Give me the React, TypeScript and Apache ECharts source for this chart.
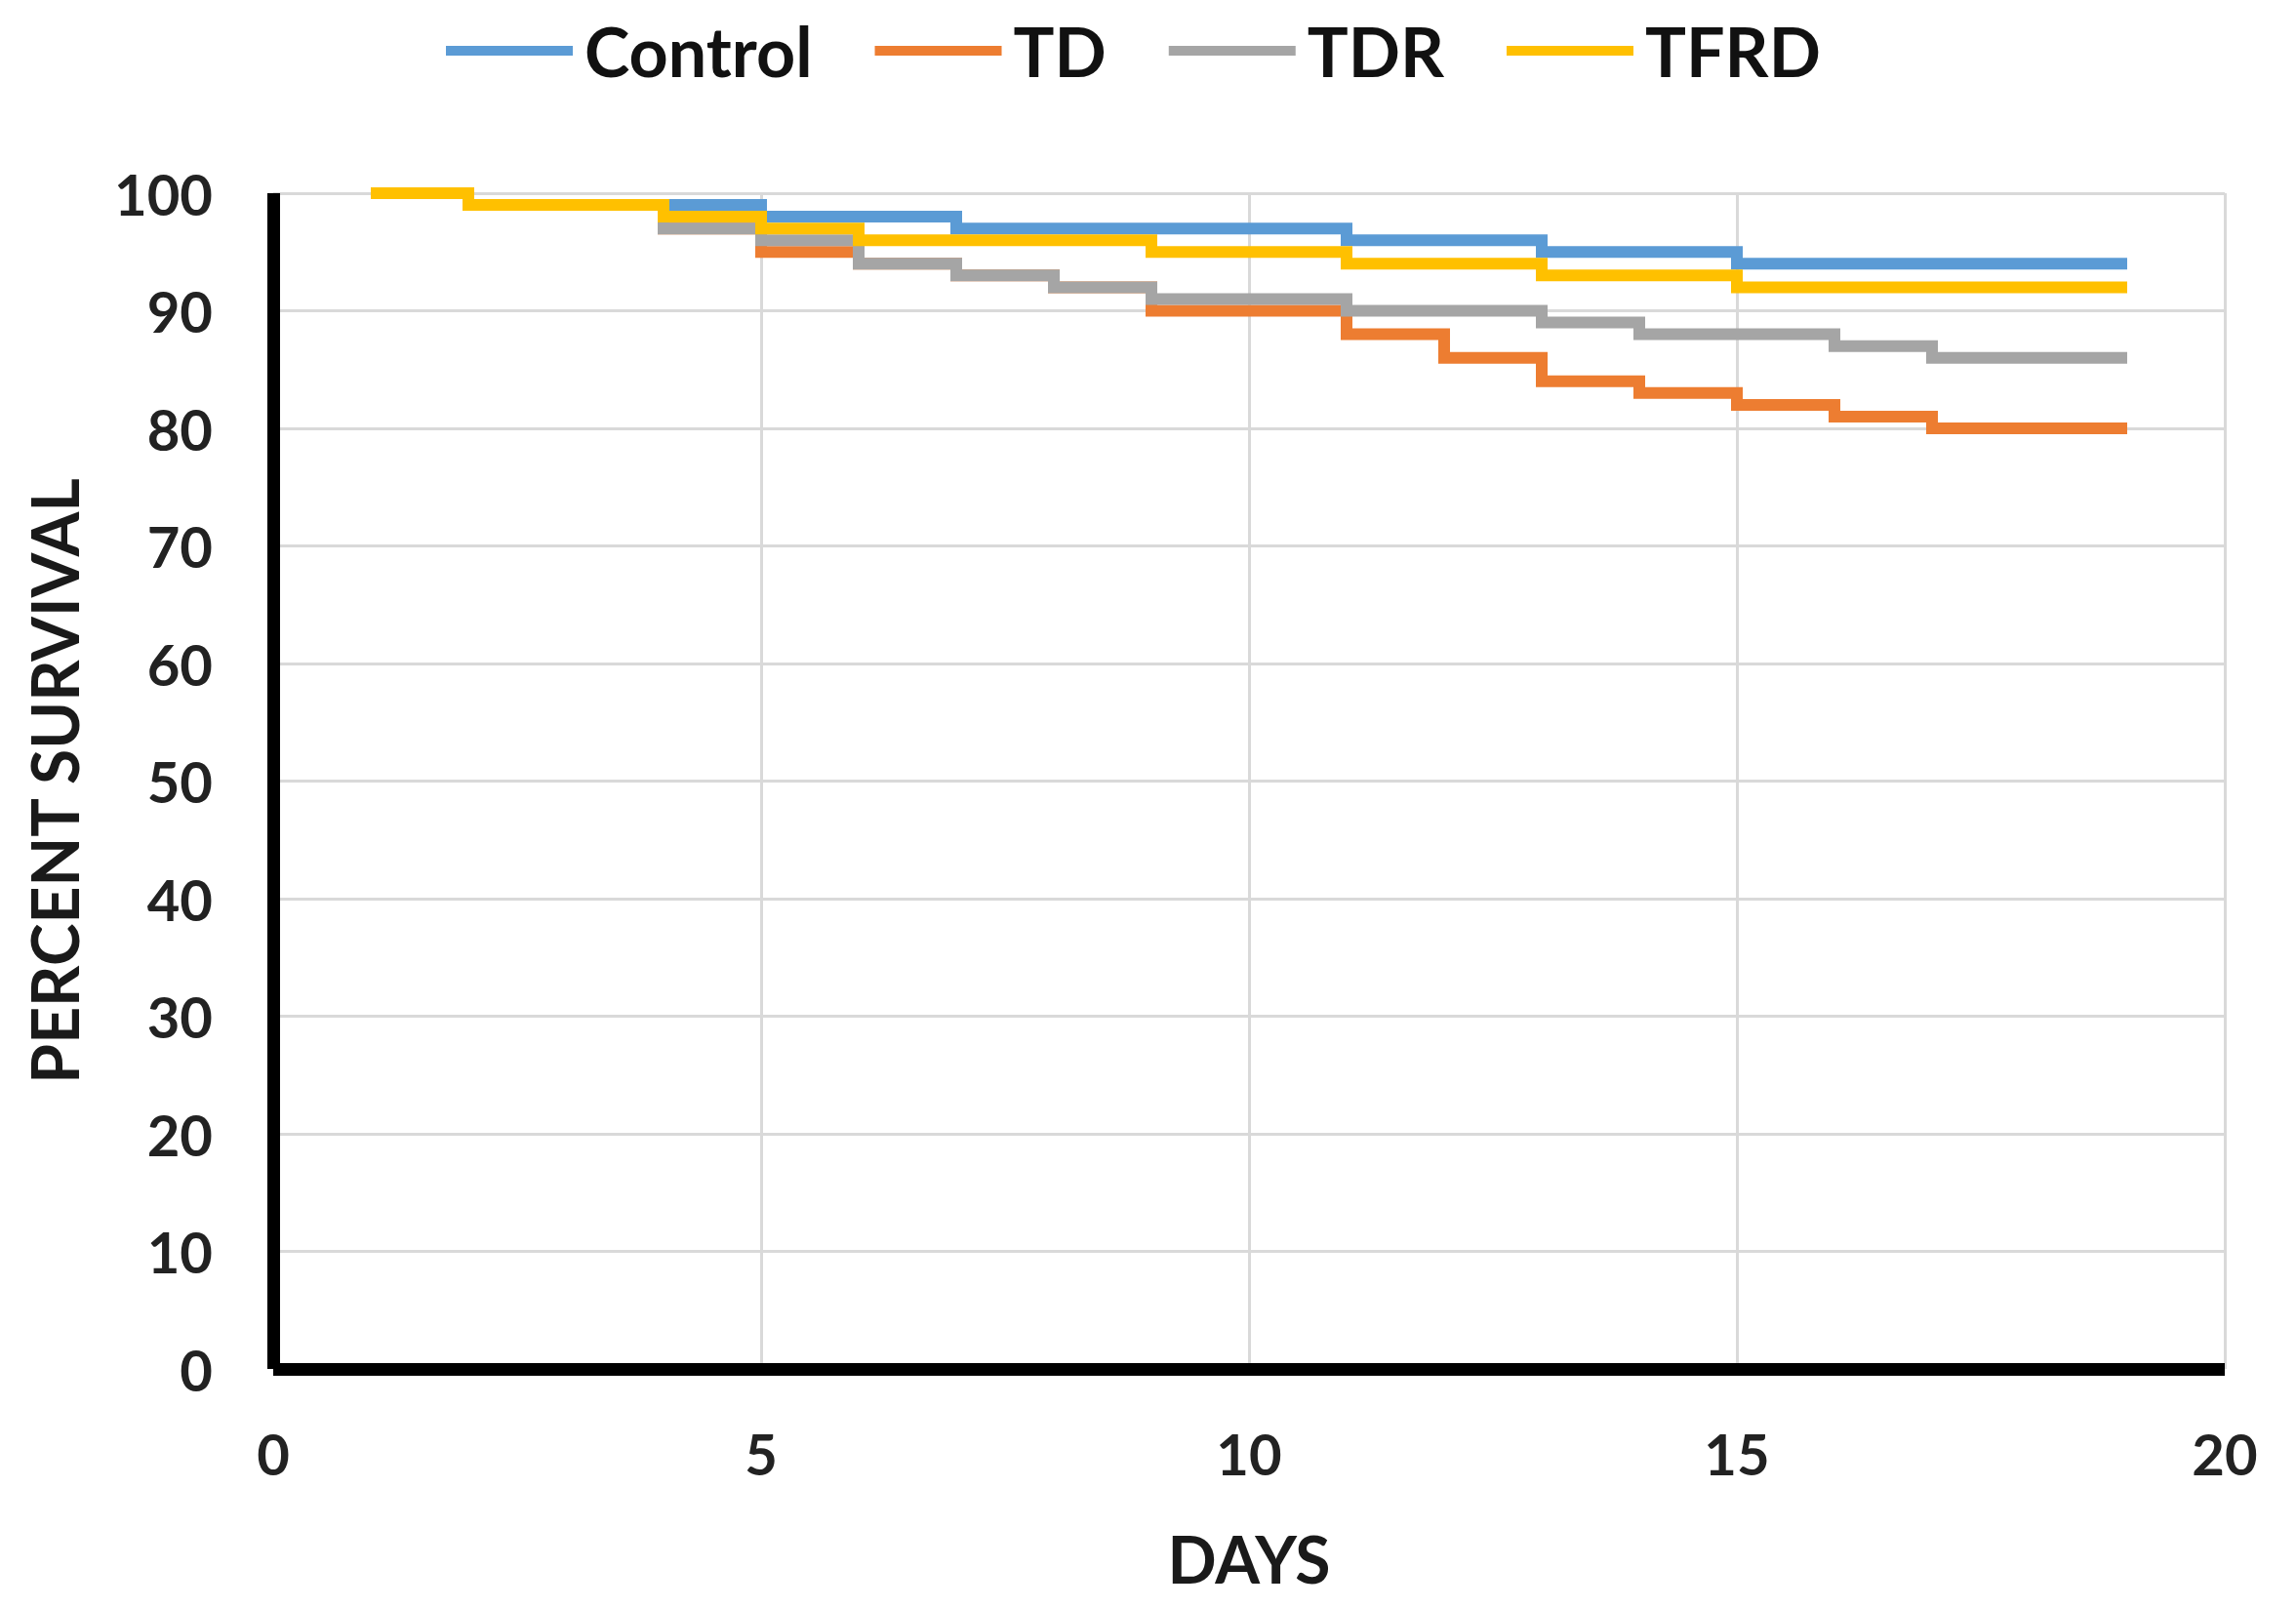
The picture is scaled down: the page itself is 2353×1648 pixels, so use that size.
import React, { useEffect, useRef } from "react";
import * as echarts from "echarts";

const seriesNames = ["Control", "TD", "TDR", "TFRD"];
const seriesColors = ["#5b9bd5", "#ed7d31", "#a5a5a5", "#ffc000"];

const controlDays = [1, 2, 5, 7, 11, 13, 15, 19];
const controlValues = [100, 99, 98, 97, 96, 95, 94, 94];

const tdDays = [1, 2, 4, 5, 6, 7, 8, 9, 11, 12, 13, 14, 15, 16, 17, 19];
const tdValues = [100, 99, 97, 95, 94, 93, 92, 90, 88, 86, 84, 83, 82, 81, 80, 80];

const tdrDays = [1, 2, 4, 5, 6, 7, 8, 9, 11, 13, 14, 16, 17, 19];
const tdrValues = [100, 99, 97, 96, 94, 93, 92, 91, 90, 89, 88, 87, 86, 86];

const tfrdDays = [1, 2, 4, 5, 6, 9, 11, 13, 15, 19];
const tfrdValues = [100, 99, 98, 97, 96, 95, 94, 93, 92, 92];

const allDays = [controlDays, tdDays, tdrDays, tfrdDays];
const allValues = [controlValues, tdValues, tdrValues, tfrdValues];

const xTicks = { min: 0, max: 20, interval: 5 };
const yTicks = { min: 0, max: 100, interval: 10 };

const FONT = "Lato";

export default function App() {
  const ref = useRef<HTMLDivElement>(null);

  useEffect(() => {
    if (!ref.current) return;
    const chart = echarts.init(ref.current, null, { renderer: "svg" });
    const series = seriesNames.map((name, i) => ({
      name,
      type: "line",
      step: "end",
      showSymbol: false,
      symbol: "none",
      color: seriesColors[i],
      itemStyle: { color: seriesColors[i] },
      lineStyle: { color: seriesColors[i], width: 12, cap: "butt", join: "miter" },
      data: allDays[i].map((d, j) => [d, allValues[i][j]]),
      z: 3 + i,
    }));
    chart.setOption({
      animation: false,
      backgroundColor: "#ffffff",
      legend: {
        left: 452,
        top: 12,
        icon: "rect",
        itemWidth: 130,
        itemHeight: 10,
        itemGap: 64,
        data: seriesNames,
        textStyle: {
          fontFamily: FONT,
          fontWeight: "bold",
          fontSize: 70,
          color: "#111111",
          padding: [0, 0, 0, 7],
        },
      },
      grid: { left: 280, right: 73, top: 198, bottom: 245, containLabel: false },
      xAxis: {
        type: "value",
        min: xTicks.min,
        max: xTicks.max,
        interval: xTicks.interval,
        name: "DAYS",
        nameLocation: "middle",
        nameGap: 194,
        nameTextStyle: {
          fontFamily: FONT,
          fontWeight: "bold",
          fontSize: 66,
          color: "#1a1a1a",
          verticalAlign: "middle",
        },
        axisLine: { show: true, onZero: false, lineStyle: { color: "#000000", width: 13, cap: "butt" } },
        axisTick: { show: false },
        axisLabel: {
          margin: 86,
          verticalAlign: "middle",
          fontFamily: FONT,
          fontWeight: "bold",
          fontSize: 58,
          color: "#222222",
        },
        splitLine: { show: true, lineStyle: { color: "#d9d9d9", width: 3 } },
      },
      yAxis: {
        type: "value",
        min: yTicks.min,
        max: yTicks.max,
        interval: yTicks.interval,
        name: "PERCENT SURVIVAL",
        nameLocation: "middle",
        nameGap: 225,
        nameTextStyle: {
          fontFamily: FONT,
          fontWeight: "bold",
          fontSize: 66,
          color: "#1a1a1a",
          verticalAlign: "middle",
        },
        axisLine: { show: true, onZero: false, lineStyle: { color: "#000000", width: 13, cap: "butt" } },
        axisTick: { show: false },
        axisLabel: {
          margin: 62,
          fontFamily: FONT,
          fontWeight: "bold",
          fontSize: 58,
          color: "#222222",
        },
        splitLine: { show: true, lineStyle: { color: "#d9d9d9", width: 3 } },
      },
      series,
    });
    return () => chart.dispose();
  }, []);

  return (
    <div
      ref={ref}
      style={{ position: "absolute", left: 0, top: 0, width: 2353, height: 1648 }}
    />
  );
}
